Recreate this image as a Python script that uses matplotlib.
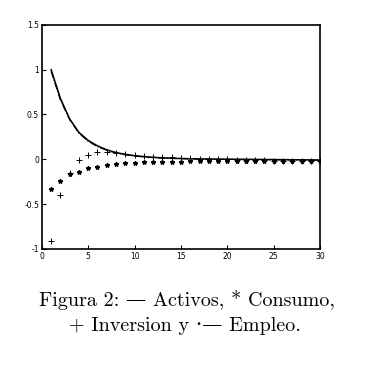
import matplotlib
matplotlib.use('Agg')
import matplotlib.pyplot as plt

periods = list(range(1, 31))

activos = [1.0, 0.68, 0.45, 0.30, 0.21, 0.15, 0.105, 0.075, 0.055, 0.04,
           0.03, 0.022, 0.016, 0.012, 0.009, 0.006, 0.004, 0.003, 0.002, 0.001,
           0.0, 0.0, -0.001, -0.002, -0.003, -0.004, -0.005, -0.006, -0.007, -0.008]
empleo = [0.98, 0.66, 0.44, 0.29, 0.20, 0.14, 0.10, 0.07, 0.05, 0.035,
          0.025, 0.018, 0.013, 0.009, 0.006, 0.004, 0.002, 0.001, 0.0, -0.001,
          -0.002, -0.003, -0.004, -0.005, -0.006, -0.007, -0.008, -0.009, -0.01, -0.01]
consumo = [-0.33, -0.24, -0.16, -0.14, -0.10, -0.09, -0.06, -0.05, -0.045, -0.04,
           -0.035, -0.03, -0.03, -0.025, -0.025, -0.02, -0.02, -0.02, -0.02, -0.02,
           -0.02, -0.02, -0.02, -0.02, -0.02, -0.02, -0.02, -0.02, -0.02, -0.02]
inversion = [-0.91, -0.40, -0.15, -0.01, 0.05, 0.08, 0.08, 0.07, 0.06, 0.05,
             0.04, 0.03, 0.025, 0.02, 0.015, 0.01, 0.008, 0.005, 0.003, 0.0,
             -0.005, -0.01, -0.01, -0.012, -0.014, -0.015, -0.016, -0.017, -0.018, -0.018]

x_ticks = [0, 5, 10, 15, 20, 25, 30]
y_ticks = [-1, -0.5, 0, 0.5, 1, 1.5]
y_labels = ['-1', '-0.5', '0', '0.5', '1', '1.5']

fig = plt.figure(figsize=(3.77, 3.65), dpi=100)
ax = fig.add_axes([0.111, 0.318, 0.738, 0.614])

ax.plot(periods, activos, color='black', linewidth=1.1, linestyle='-')
ax.plot(periods, empleo, color='black', linewidth=0.8, linestyle='-.')
ax.plot(periods, consumo, linestyle='none', marker='*', color='black', markersize=3.2)
ax.plot(periods, inversion, linestyle='none', marker='+', color='black', markersize=4,
        markeredgewidth=0.7)

ax.set_xlim(0, 30)
ax.set_ylim(-1, 1.5)
ax.set_xticks(x_ticks)
ax.set_xticklabels([str(t) for t in x_ticks])
ax.set_yticks(y_ticks)
ax.set_yticklabels(y_labels)
ax.tick_params(direction='in', length=3, width=0.8, labelsize=5.5, pad=2)
for s in ax.spines.values():
    s.set_linewidth(1.2)

cap_font = ['cmr10', 'DejaVu Serif']
fig.text(0.495, 0.178, 'Figura 2: \u2014 Activos, * Consumo,', ha='center', va='center',
         fontsize=14.5, family=cap_font)
fig.text(0.49, 0.107, '+ Inversion y \u00b7\u2014 Empleo.', ha='center', va='center',
         fontsize=14.5, family=cap_font)

fig.savefig('out.png', dpi=100)
